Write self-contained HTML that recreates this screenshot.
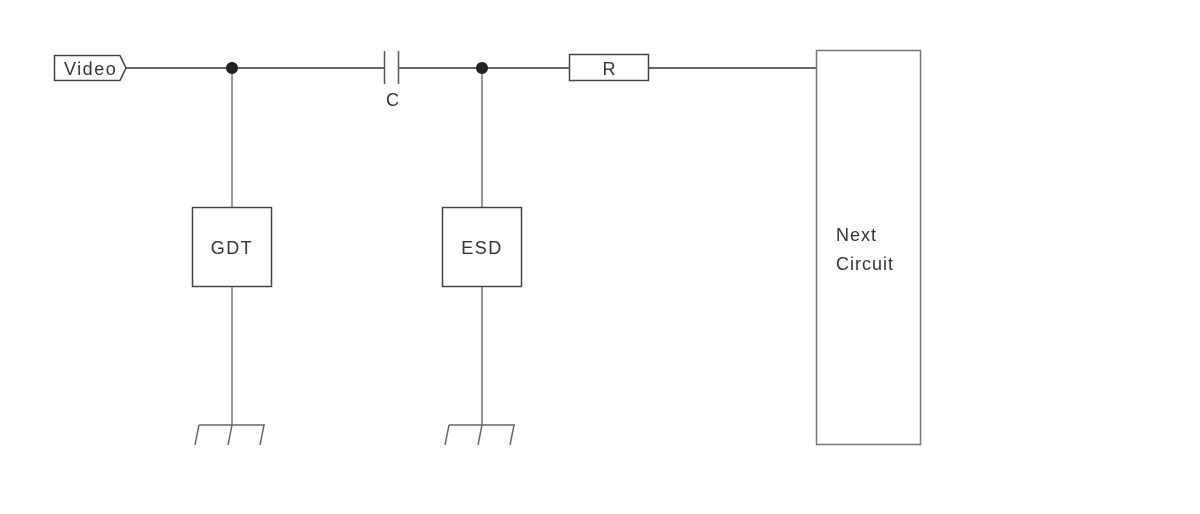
<!DOCTYPE html>
<html><head><meta charset="utf-8"><style>
html,body{margin:0;padding:0;background:#fff;}
svg{display:block;}
text{font-family:"Liberation Sans",sans-serif;font-size:18px;fill:#333;}
</style></head><body>
<svg width="1200" height="514" viewBox="0 0 1200 514" xmlns="http://www.w3.org/2000/svg">
<g fill="none" stroke-width="1.5">
<path d="M54.5 55.5 H120 L126 68 L120 80.5 H54.5 Z" stroke="#444"/>
<line x1="126" y1="68" x2="384" y2="68" stroke="#333"/>
<line x1="398" y1="68" x2="569" y2="68" stroke="#333"/>
<line x1="649" y1="68" x2="816" y2="68" stroke="#333"/>
<line x1="384.5" y1="51" x2="384.5" y2="84" stroke="#555"/>
<line x1="398.5" y1="51" x2="398.5" y2="84" stroke="#555"/>
<rect x="569.5" y="54.5" width="79" height="26" stroke="#444"/>
<line x1="232" y1="68" x2="232" y2="207" stroke="#777"/>
<line x1="232" y1="287" x2="232" y2="425" stroke="#777"/>
<line x1="482" y1="68" x2="482" y2="207" stroke="#777"/>
<line x1="482" y1="287" x2="482" y2="425" stroke="#777"/>
<rect x="192.5" y="207.5" width="79" height="79" stroke="#444"/>
<rect x="442.5" y="207.5" width="79" height="79" stroke="#444"/>
<rect x="816.5" y="50.5" width="104" height="394" stroke="#777"/>
<g stroke="#666">
<line x1="199" y1="425" x2="265" y2="425"/>
<line x1="199" y1="425" x2="195" y2="445"/>
<line x1="232" y1="425" x2="228" y2="445"/>
<line x1="264" y1="425" x2="260" y2="445"/>
<line x1="449" y1="425" x2="515" y2="425"/>
<line x1="449" y1="425" x2="445" y2="445"/>
<line x1="482" y1="425" x2="478" y2="445"/>
<line x1="514" y1="425" x2="510" y2="445"/>
</g>
</g>
<circle cx="232" cy="68" r="6" fill="#222"/>
<circle cx="482" cy="68" r="6" fill="#222"/>
<text x="64" y="75" letter-spacing="1.5">Video</text>
<text x="386" y="106">C</text>
<text x="609" y="75" text-anchor="middle">R</text>
<text x="232" y="254" text-anchor="middle" letter-spacing="1.5">GDT</text>
<text x="482" y="254" text-anchor="middle" letter-spacing="1.5">ESD</text>
<text x="836" y="241" letter-spacing="1">Next</text>
<text x="836" y="270" letter-spacing="1">Circuit</text>
</svg>
</body></html>
